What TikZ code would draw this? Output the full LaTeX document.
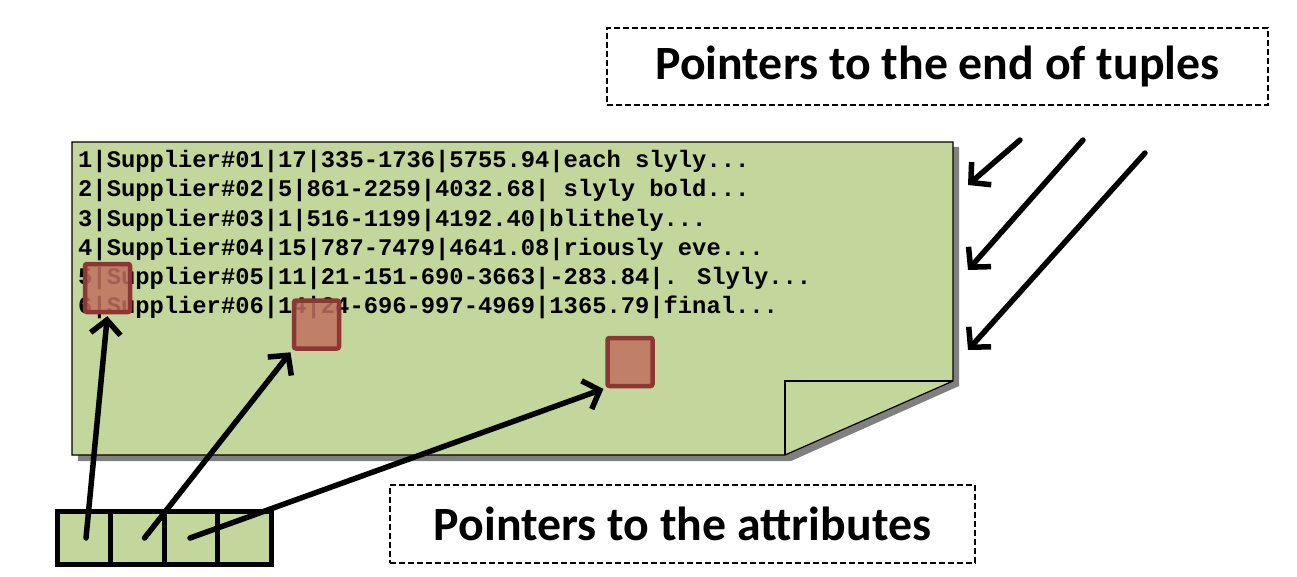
\documentclass[tikz,border=0pt]{standalone}
\usepackage{fontspec}
\setmainfont{Carlito}
\newfontfamily\monof{Liberation Mono}
\usetikzlibrary{arrows.meta}
\definecolor{pagegreen}{HTML}{C3D69B}
\definecolor{shadowgray}{HTML}{808080}
\definecolor{attrfill}{HTML}{C0705E}
\definecolor{attrdraw}{HTML}{8E3535}
\tikzset{
  rowtext/.style={anchor=base west, inner sep=0pt, font=\monof\bfseries\fontsize{23.8}{26}\selectfont},
  attrbox/.style={draw=attrdraw, line width=4.5pt, fill=attrfill, fill opacity=0.85, rounded corners=2pt, minimum width=45pt, minimum height=48pt, inner sep=0pt},
  cell/.style={draw, line width=5pt, fill=pagegreen, minimum width=53.5pt, minimum height=53pt, inner sep=0pt, outer sep=0pt},
  ptr/.style={line width=5.5pt, line cap=round, -{Straight Barb[length=14pt,width=30pt,line width=5.5pt]}},
  label/.style={draw, dash pattern=on 6pt off 3pt, line width=1.5pt, inner sep=0pt, font=\bfseries\fontsize{47.8}{56}\selectfont},
}
\begin{document}
\begin{tikzpicture}[x=1pt,y=-1pt]
\useasboundingbox (0,0) rectangle (1297,577);
% shadow
\fill[shadowgray] (78,147) -- (959,147) -- (959,386) -- (791,461) -- (78,461) -- cycle;
% page
\draw[fill=pagegreen, line width=1.2pt] (72,142) -- (953,142) -- (953,381) -- (785,455) -- (72,455) -- cycle;
\draw[line width=1.2pt] (953,381) -- (785,381) -- (785,455);
% rows
\node[rowtext] (r1) at (78,168) {1|Supplier\#01|17|335-1736|5755.94|each slyly...};
\node[rowtext] (r2) at (78,197) {2|Supplier\#02|5|861-2259|4032.68| slyly bold...};
\node[rowtext] (r3) at (78,226) {3|Supplier\#03|1|516-1199|4192.40|blithely...};
\node[rowtext] (r4) at (78,255) {4|Supplier\#04|15|787-7479|4641.08|riously eve...};
\node[rowtext] (r5) at (78,284) {5|Supplier\#05|11|21-151-690-3663|-283.84|. Slyly...};
\node[rowtext] (r6) at (78,313) {6|Supplier\#06|14|24-696-997-4969|1365.79|final...};
% attribute boxes
\node[attrbox] (a1) at (107.5,288) {};
\node[attrbox] (a2) at (316.5,324.5) {};
\node[attrbox] (a3) at (630,362) {};
% cells
\node[cell] (c1) at (84,538) {};
\node[cell, anchor=west] (c2) at (c1.east) {};
\node[cell, anchor=west] (c3) at (c2.east) {};
\node[cell, anchor=west] (c4) at (c3.east) {};
% pointers to attributes
\draw[ptr, shorten >=2pt] ([xshift=2pt]c1.center) -- (a1.south);
\draw[ptr, shorten >=2pt] ([xshift=7pt]c2.center) -- (a2.south west);
\draw[ptr, shorten >=2pt] ([xshift=-1pt]c3.center) -- (a3.south west);
% pointers to end of tuples
\coordinate (s1) at (1020,140);
\coordinate (s2) at (1083,140);
\coordinate (s3) at (1145,153);
\coordinate (e1) at (968,185);
\coordinate (e2) at (968,270);
\coordinate (e3) at (968,350);
\draw[ptr] (s1) -- (e1);
\draw[ptr] (s2) -- (e2);
\draw[ptr] (s3) -- (e3);
% labels
\node[label, minimum width=661pt, minimum height=77pt] (l1) at (937.5,66.5) {Pointers to the end of tuples};
\node[label, minimum width=585pt, minimum height=78pt] (l2) at (682.5,524) {Pointers to the attributes};
\end{tikzpicture}
\end{document}
